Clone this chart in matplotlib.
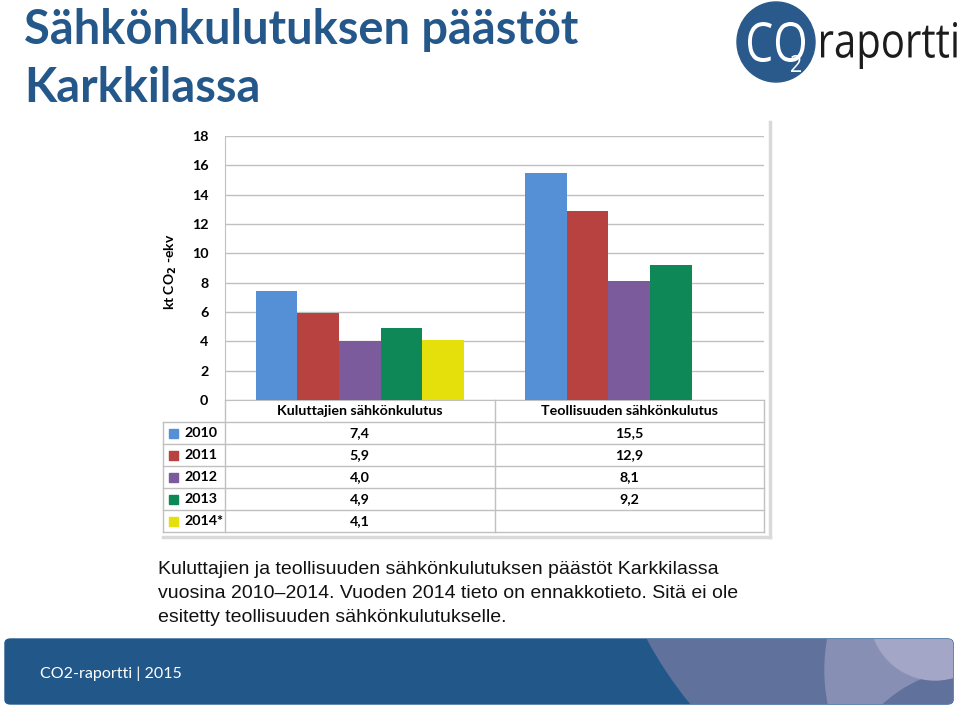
import matplotlib
matplotlib.use("Agg")
import matplotlib.pyplot as plt
from matplotlib.patches import FancyBboxPatch, Ellipse, Rectangle, PathPatch
from matplotlib.lines import Line2D
from matplotlib.textpath import TextPath
from matplotlib.font_manager import FontProperties
from matplotlib.transforms import Affine2D, IdentityTransform
import numpy as np

# chart data
categories = ["Kuluttajien sähkönkulutus", "Teollisuuden sähkönkulutus"]
years = ["2010", "2011", "2012", "2013", "2014*"]
values = {
    "2010": [7.4, 15.5],
    "2011": [5.9, 12.9],
    "2012": [4.0, 8.1],
    "2013": [4.9, 9.2],
    "2014*": [4.1, None],
}
colors = ["#5590d6", "#b7423f", "#7b5b9b", "#0e8856", "#e5e00c"]
yticks = [0, 2, 4, 6, 8, 10, 12, 14, 16, 18]

title_color = "#25588a"
W, H = 960, 707

plt.rcParams["font.family"] = ["Lato", "DejaVu Sans"]

fig = plt.figure(figsize=(W / 100, H / 100), dpi=100)


def fx(px):
    return px / W


def fy(py):
    return 1 - py / H


def fit_text(s, left, right, top, bottom, color, family="Open Sans"):
    # squeeze a text path into a pixel box (used for the logo lettering)
    tp = TextPath((0, 0), s, size=10, prop=FontProperties(family=family))
    ext = tp.get_extents()
    sx = (right - left) / ext.width
    sy = (bottom - top) / ext.height
    tr = Affine2D().translate(-ext.x0, -ext.y0).scale(sx, sy).translate(left, H - bottom)
    fig.add_artist(PathPatch(tr.transform_path(tp), transform=IdentityTransform(),
                             color=color, lw=0))


def disc(cx, cy, r, color):
    # circle given in pixels, drawn in figure fractions
    return Ellipse((fx(cx), fy(cy)), 2 * r / W, 2 * r / H, transform=fig.transFigure,
                   color=color)


# Title
fig.text(fx(24), fy(30), "Sähkönkulutuksen päästöt", fontsize=33.8, fontweight="bold",
         color=title_color, va="center", ha="left")
fig.text(fx(24), fy(88), "Karkkilassa", fontsize=33.8, fontweight="bold",
         color=title_color, va="center", ha="left")

# Logo
fig.add_artist(Ellipse((fx(776), fy(42)), 78 / W, 80 / H, transform=fig.transFigure,
                       color="#2a5a8c"))
fit_text("CO", 748, 805, 22, 62, "white")
fit_text("2", 791, 801, 55, 72, "white")
fit_text("raportti", 821, 957, 22, 69, "#1c1c1c")

# chart box shadow
fig.add_artist(Line2D([fx(770), fx(770)], [fy(122), fy(537)], color="#d9d9d9", lw=2.5))
fig.add_artist(Line2D([fx(163), fx(770)], [fy(537), fy(537)], color="#d9d9d9", lw=2.5))

# Main axes
ax = fig.add_axes([fx(225), fy(400), fx(764) - fx(225), (400 - 136) / H])
ncat = len(categories)
x = np.arange(ncat)
w = 0.154
for i, yr in enumerate(years):
    for j in range(ncat):
        v = values[yr][j]
        if v is None:
            continue
        ax.bar(x[j] + (i - 2) * w, v, width=w, color=colors[i], zorder=3)

ax.set_xlim(-0.5, ncat - 0.5)
ax.set_ylim(0, 18)
ax.set_yticks(yticks)
ax.set_yticklabels([str(t) for t in yticks], fontweight="bold", fontsize=10.3)
ax.tick_params(axis="y", length=0, pad=12)
ax.set_xticks([])
ax.grid(axis="y", color="#c0c0c0", lw=1, zorder=0)
for s in ["top", "right"]:
    ax.spines[s].set_visible(False)
ax.spines["left"].set_color("#c0c0c0")
ax.spines["bottom"].set_color("#c0c0c0")
fig.text(fx(171), fy(272), r"kt CO$_\mathbf{2}$ -ekv", rotation=90, fontsize=10,
         fontweight="bold", ha="center", va="center")

# Data table
line_c = "#c0c0c0"
row_top = 422
row_h = 22
nrows = len(years)
bottom = row_top + nrows * row_h
fig.add_artist(Line2D([fx(225), fx(225)], [fy(400), fy(bottom)], color=line_c, lw=1))
fig.add_artist(Line2D([fx(764), fx(764)], [fy(400), fy(bottom)], color=line_c, lw=1))
col_w = (764 - 225) / ncat
for j in range(1, ncat):
    mx = 225 + col_w * j
    fig.add_artist(Line2D([fx(mx), fx(mx)], [fy(400), fy(bottom)], color=line_c, lw=1))
fig.add_artist(Line2D([fx(163), fx(163)], [fy(row_top), fy(bottom)], color=line_c, lw=1))
for r in range(nrows + 1):
    yy = row_top + r * row_h
    fig.add_artist(Line2D([fx(163), fx(764)], [fy(yy), fy(yy)], color=line_c, lw=1))

for j, cat in enumerate(categories):
    cx = 225 + col_w * (j + 0.5)
    fig.text(fx(cx), fy(411), cat, fontsize=10.3, fontweight="bold", ha="center",
             va="center")
    for i, yr in enumerate(years):
        v = values[yr][j]
        if v is None:
            continue
        fig.text(fx(cx), fy(row_top + row_h * (i + 0.5)), f"{v:.1f}".replace(".", ","),
                 fontsize=10.3, fontweight="bold", ha="center", va="center")

for i, yr in enumerate(years):
    cy = row_top + row_h * (i + 0.5)
    fig.add_artist(Rectangle((fx(169), fy(cy + 4.5)), 9 / W, 9 / H,
                             transform=fig.transFigure, color=colors[i]))
    fig.text(fx(184), fy(cy), yr, fontsize=10.3, fontweight="bold", ha="left",
             va="center")

# Caption
caption = ["Kuluttajien ja teollisuuden sähkönkulutuksen päästöt Karkkilassa",
           "vuosina 2010–2014. Vuoden 2014 tieto on ennakkotieto. Sitä ei ole",
           "esitetty teollisuuden sähkönkulutukselle."]
for k, line in enumerate(caption):
    fig.text(fx(158), fy(570 + 23.5 * k), line, fontsize=14.0, family="Liberation Sans",
             color="#111111", ha="left", va="center")

# Footer band
band = FancyBboxPatch((fx(5), fy(704)), (953 - 5) / W, (704 - 639) / H,
                      boxstyle="round,pad=0,rounding_size=0.006",
                      transform=fig.transFigure, color="#22578a", zorder=1)
fig.add_artist(band)
shapes = [
    disc(1000, 450, 400, "#60719c"),
    disc(1000, 670, 175, "#8790b4"),
    disc(974, 803, 134, "#60719c"),
    disc(935, 615, 65, "#a3a6c6"),
]
for s in shapes:
    s.set_zorder(2)
    fig.add_artist(s)
    s.set_clip_path(band)
fig.text(fx(40), fy(674), "CO2-raportti | 2015", fontsize=11.5, color="white",
         ha="left", va="center", zorder=3)

fig.savefig("out.png", dpi=100)
